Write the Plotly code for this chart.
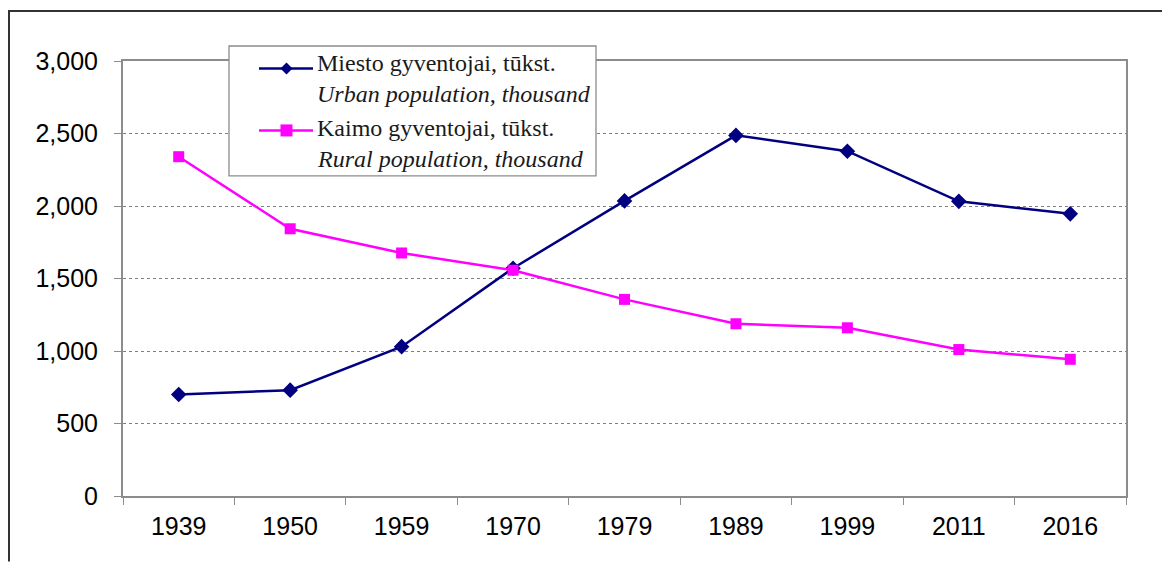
import plotly.graph_objects as go

years = ["1939", "1950", "1959", "1970", "1979", "1989", "1999", "2011", "2016"]
urban = [700, 730, 1030, 1571, 2035, 2487, 2378, 2032, 1946]
rural = [2340, 1843, 1676, 1557, 1356, 1188, 1160, 1010, 943]
urban_name = ["Miesto gyventojai, tūkst.", "Urban population, thousand"]
rural_name = ["Kaimo gyventojai, tūkst.", "Rural population, thousand"]
y_ticks = [0, 500, 1000, 1500, 2000, 2500, 3000]

# page body has an 8px margin; screen coords are converted below
OFF = 8
W, H = 1170 - OFF, 562 - OFF
PL, PR, PT, PB = 123, 1126, 61, 496.5  # plot area in screen pixels
L, T = PL - OFF, PT - OFF
R = W - (PR - OFF)
B = H - (PB - OFF)
PW = PR - PL
PH = PB - PT

def px(x):
    return (x - PL) / PW

def py(y):
    return (PB - y) / PH

NAVY = "#000080"
MAG = "#FF00FF"
AXC = "#8c8c8c"

fig = go.Figure()
fig.add_trace(go.Scatter(x=years, y=urban, mode="lines+markers", name=urban_name[0],
                         line=dict(color=NAVY, width=2.5),
                         marker=dict(symbol="diamond", size=12, color=NAVY)))
fig.add_trace(go.Scatter(x=years, y=rural, mode="lines+markers", name=rural_name[0],
                         line=dict(color=MAG, width=2.5),
                         marker=dict(symbol="square", size=11, color=MAG)))

shapes = []
# outer frame (top and left edges visible)
shapes.append(dict(type="line", xref="paper", yref="paper",
                   x0=px(8), x1=px(1170), y0=py(11), y1=py(11),
                   line=dict(color="#333333", width=2), layer="below"))
shapes.append(dict(type="line", xref="paper", yref="paper",
                   x0=px(9), x1=px(9), y0=py(10), y1=py(562),
                   line=dict(color="#333333", width=2), layer="below"))
# legend box
shapes.append(dict(type="rect", xref="paper", yref="paper",
                   x0=px(229), x1=px(596), y0=py(176), y1=py(46),
                   line=dict(color="#8c8c8c", width=1.3), fillcolor="white", layer="above"))
# legend lines
for yy, col in [(68.5, NAVY), (130.5, MAG)]:
    shapes.append(dict(type="line", xref="paper", yref="paper",
                       x0=px(259), x1=px(313), y0=py(yy), y1=py(yy),
                       line=dict(color=col, width=2.5), layer="above"))
# legend markers (pixel-sized)
shapes.append(dict(type="path", xref="paper", yref="paper", xsizemode="pixel", ysizemode="pixel",
                   xanchor=px(286.5), yanchor=py(68.5),
                   path="M0,6 L6,0 L0,-6 L-6,0 Z", fillcolor=NAVY, line=dict(color=NAVY, width=0),
                   layer="above"))
shapes.append(dict(type="rect", xref="paper", yref="paper", xsizemode="pixel", ysizemode="pixel",
                   xanchor=px(286.5), yanchor=py(130.5), x0=-6, x1=6, y0=-6, y1=6,
                   fillcolor=MAG, line=dict(color=MAG, width=0), layer="above"))

annotations = []
serif = "Liberation Serif, Times New Roman, serif"
for txt, yy, ital in [(urban_name[0], 63, False), (urban_name[1], 94, True),
                      (rural_name[0], 128, False), (rural_name[1], 159, True)]:
    annotations.append(dict(xref="paper", yref="paper", x=px(315), y=py(yy),
                            xanchor="left", yanchor="middle", showarrow=False,
                            text=(f"<i>{txt}</i>" if ital else txt),
                            font=dict(family=serif, size=24, color="#1a1a1a")))

sans = "Liberation Sans, Arial, sans-serif"
fig.update_layout(
    width=W, height=H,
    margin=dict(l=L, r=R, t=T, b=B, pad=0),
    paper_bgcolor="white", plot_bgcolor="white",
    showlegend=False,
    shapes=shapes, annotations=annotations,
    font=dict(family=sans, size=25, color="black"),
)
fig.update_xaxes(type="category", showgrid=False, showline=True, linecolor=AXC, linewidth=2,
                 mirror=True, ticks="outside", tickson="boundaries", ticklen=7, tickcolor=AXC,
                 tickwidth=1, ticklabelstandoff=7, range=[-0.5, 8.5],
                 tickfont=dict(family=sans, size=25, color="black"))
fig.update_yaxes(range=[0, 3000], tickvals=y_ticks, tickformat=",", showgrid=True,
                 gridcolor="#808080", griddash="dot", gridwidth=1,
                 showline=True, linecolor=AXC, linewidth=2, mirror=True,
                 ticks="outside", ticklen=7, tickcolor=AXC, tickwidth=1, ticklabelstandoff=11,
                 zeroline=False,
                 tickfont=dict(family=sans, size=25, color="black"))

fig.write_html("out.html")
